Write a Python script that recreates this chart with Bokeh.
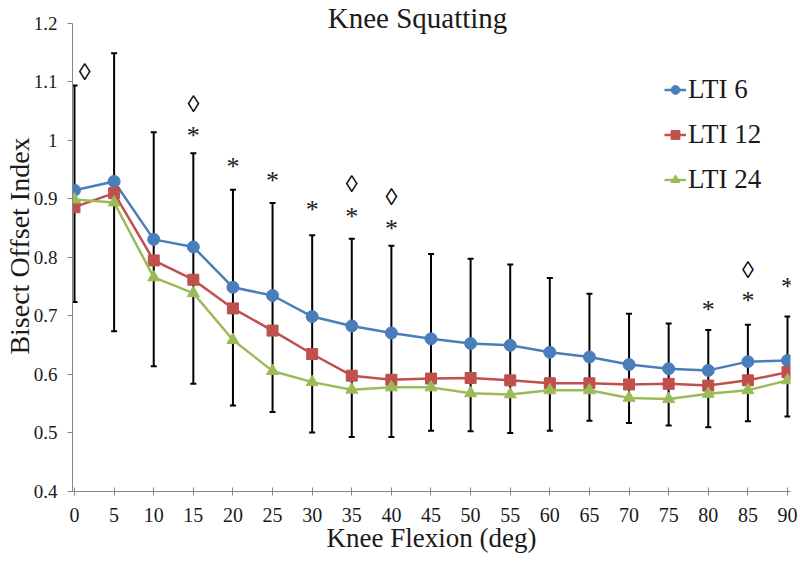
from bokeh.plotting import figure
from bokeh.models import (Range1d, FixedTicker, Legend, LegendItem, Label,
                          ColumnDataSource)
from bokeh.core.properties import value
from bokeh.embed import file_html
from bokeh.resources import INLINE

# ---- data ----
flexion = [0, 5, 10, 15, 20, 25, 30, 35, 40, 45, 50, 55, 60, 65, 70, 75, 80, 85, 90]
lti6 = [0.915, 0.930, 0.831, 0.818, 0.749, 0.735, 0.699, 0.683, 0.671, 0.661,
        0.653, 0.650, 0.638, 0.630, 0.617, 0.610, 0.607, 0.622, 0.624]
lti12 = [0.886, 0.910, 0.795, 0.762, 0.713, 0.675, 0.635, 0.598, 0.591, 0.593,
         0.594, 0.590, 0.585, 0.585, 0.583, 0.584, 0.581, 0.590, 0.604]
lti24 = [0.899, 0.894, 0.766, 0.739, 0.659, 0.606, 0.587, 0.574, 0.578, 0.578,
         0.568, 0.566, 0.573, 0.573, 0.560, 0.558, 0.567, 0.573, 0.590]
err_hi = [1.094, 1.149, 1.014, 0.978, 0.916, 0.893, 0.838, 0.832, 0.820, 0.806,
          0.798, 0.788, 0.765, 0.738, 0.704, 0.687, 0.676, 0.685, 0.699]
err_lo = [0.724, 0.674, 0.614, 0.584, 0.547, 0.536, 0.501, 0.493, 0.493, 0.504,
          0.503, 0.500, 0.504, 0.521, 0.517, 0.513, 0.510, 0.520, 0.528]
star_x = [15, 20, 25, 30, 35, 40, 80, 85, 90]
star_y = [1.014, 0.960, 0.937, 0.887, 0.875, 0.855, 0.717, 0.731, 0.756]
diam_x = [1.3, 15, 35, 40, 85]
diam_y = [1.117, 1.063, 0.926, 0.903, 0.778]
y_ticks = [0.4, 0.5, 0.6, 0.7, 0.8, 0.9, 1.0, 1.1, 1.2]
y_tick_labels = ["0.4", "0.5", "0.6", "0.7", "0.8", "0.9", "1", "1.1", "1.2"]
series_names = ["LTI 6", "LTI 12", "LTI 24"]
colors = ["#4A7EBB", "#C0504D", "#9BBB59"]
markers = ["circle", "square", "triangle"]

FONT = "Liberation Serif"
TXT = "#1a1a1a"

p = figure(width=800, height=563, output_backend="svg", toolbar_location=None,
           x_range=Range1d(-0.2525, 90.38), y_range=Range1d(0.4, 1.2393),
           min_border_left=72, min_border_right=10, min_border_top=0,
           min_border_bottom=72)
p.outline_line_color = None
p.xgrid.visible = False
p.ygrid.visible = False

# axes
ax = p.xaxis[0]
ax.ticker = FixedTicker(ticks=flexion)
ax.minor_tick_line_color = None
ax.axis_line_color = "#868686"
ax.major_tick_line_color = "#868686"
ax.major_tick_in = 4
ax.major_tick_out = 4
ax.major_label_text_font = FONT
ax.major_label_text_font_size = "20px"
ax.major_label_text_color = TXT
ax.major_label_standoff = 12
ax.axis_label = "Knee Flexion (deg)"
ax.axis_label_text_font = FONT
ax.axis_label_text_font_size = "27px"
ax.axis_label_text_font_style = "normal"
ax.axis_label_text_color = TXT
ax.axis_label_standoff = -2

ay = p.yaxis[0]
ay.ticker = FixedTicker(ticks=y_ticks)
ay.major_label_overrides = {t: l for t, l in zip(y_ticks, y_tick_labels)}
ay.bounds = (0.4, 1.2)
ay.minor_tick_line_color = None
ay.axis_line_color = "#868686"
ay.major_tick_line_color = "#868686"
ay.major_tick_in = 0
ay.major_tick_out = 5
ay.major_label_text_font = FONT
ay.major_label_text_font_size = "19px"
ay.major_label_text_color = TXT
ay.major_label_standoff = 10
ay.axis_label = "Bisect Offset Index"
ay.axis_label_text_font = FONT
ay.axis_label_text_font_size = "28px"
ay.axis_label_text_font_style = "normal"
ay.axis_label_text_color = TXT
ay.axis_label_standoff = -4

# error bars
eb = ColumnDataSource(dict(x=flexion, lo=err_lo, hi=err_hi))
p.segment(x0="x", y0="lo", x1="x", y1="hi", source=eb, line_color="black",
          line_width=2)
p.scatter(x="x", y="hi", source=eb, marker="dash", size=6, line_color="black",
          line_width=2)
p.scatter(x="x", y="lo", source=eb, marker="dash", size=6, line_color="black",
          line_width=2)

# series
items = []
for name, vals, col, mk in zip(series_names, [lti6, lti12, lti24], colors, markers):
    src = ColumnDataSource(dict(x=flexion, y=vals))
    ln = p.line("x", "y", source=src, line_color=col, line_width=2.5)
    sz = 12 if mk != "square" else 11
    sc = p.scatter("x", "y", source=src, marker=mk, size=sz, fill_color=col,
                   line_color=col)
    items.append(LegendItem(label=name, renderers=[ln, sc]))

legend = Legend(items=items, location=(592, 296), border_line_color=None,
                background_fill_alpha=0, label_text_font=FONT,
                label_text_font_size="27px", label_text_color=TXT,
                glyph_width=22, glyph_height=31, label_height=31,
                label_standoff=2, spacing=14, padding=5, margin=0)
p.add_layout(legend)

# significance markers
ss = ColumnDataSource(dict(x=star_x, y=star_y, t=["*"] * len(star_x)))
p.text(x="x", y="y", text="t", source=ss, text_font=value(FONT),
       text_font_size="26px", text_align="center", text_baseline="middle",
       y_offset=3, text_color=TXT)
ds = ColumnDataSource(dict(x=diam_x, y=diam_y, t=["\u25ca"] * len(diam_x)))
p.text(x="x", y="y", text="t", source=ds, text_font=value(FONT),
       text_font_size="24px", text_align="center", text_baseline="middle",
       text_color="black", text_font_style="bold")

# title (inside the frame, top-anchored just below the figure's top edge)
p.add_layout(Label(x=43.3, y=1.2365, text="Knee Squatting", text_align="center",
                   text_baseline="top", text_font=FONT,
                   text_font_size="29px", text_color=TXT))

open("out.html", "w").write(file_html(p, INLINE))
